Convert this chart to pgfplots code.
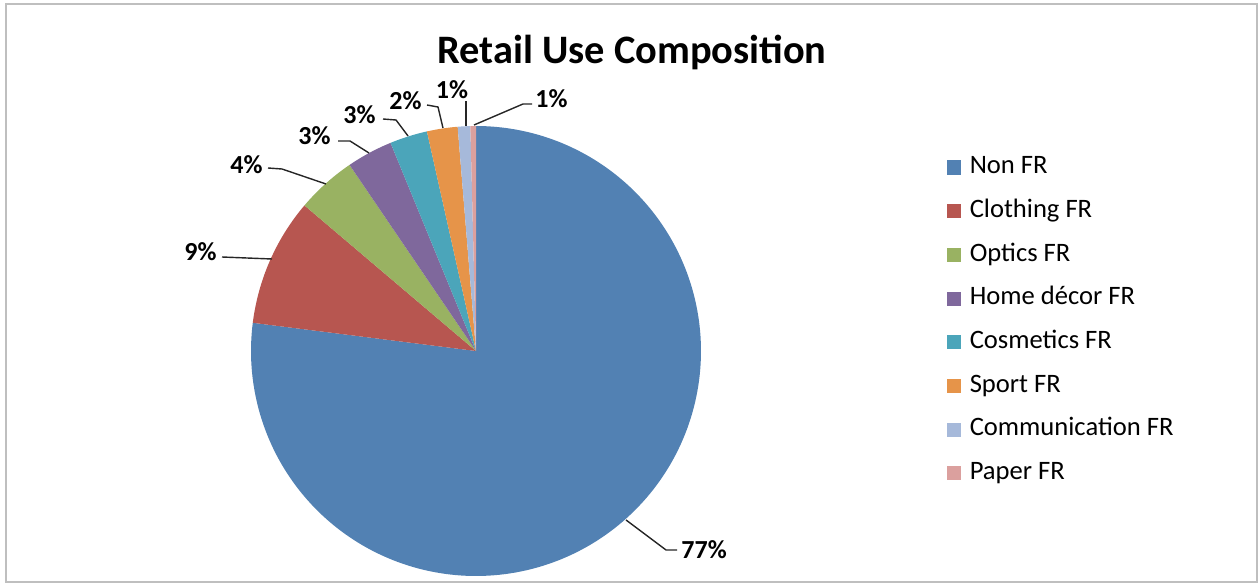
\documentclass[border=0pt]{standalone}
\usepackage{pgfplots}
\pgfplotsset{compat=1.18}
\usepackage{fontspec}
\setmainfont{Carlito}
\definecolor{cNon}{RGB}{82,129,179}
\definecolor{cClo}{RGB}{183,86,80}
\definecolor{cOpt}{RGB}{153,178,98}
\definecolor{cHom}{RGB}{127,104,156}
\definecolor{cCos}{RGB}{75,165,186}
\definecolor{cSpo}{RGB}{230,148,73}
\definecolor{cCom}{RGB}{166,185,218}
\definecolor{cPap}{RGB}{219,160,158}
\definecolor{frame}{RGB}{191,191,191}
% shares in percent
\def\vA{77.0}\def\vB{9.2}\def\vC{4.3}\def\vD{3.3}
\def\vE{2.7}\def\vF{2.2}\def\vG{0.9}\def\vH{0.4}
\begin{document}
\begin{tikzpicture}[x=0.5pt,y=-0.5pt]
\useasboundingbox (0,0) rectangle (1259,583);
\draw[frame, line width=1pt] (6,4) rectangle (1257,582);
\node[font=\bfseries\fontsize{20.2}{24}\selectfont] at (632,52) {Retail Use Composition};
\pgfmathsetmacro\aA{90}
\pgfmathsetmacro\aB{\aA-3.6*\vA}
\pgfmathsetmacro\aC{\aB-3.6*\vB}
\pgfmathsetmacro\aD{\aC-3.6*\vC}
\pgfmathsetmacro\aE{\aD-3.6*\vD}
\pgfmathsetmacro\aF{\aE-3.6*\vE}
\pgfmathsetmacro\aG{\aF-3.6*\vF}
\pgfmathsetmacro\aH{\aG-3.6*\vG}
\pgfmathsetmacro\aI{\aH-3.6*\vH}
\begin{axis}[at={(238pt,-175.5pt)}, anchor=center, scale only axis,
  width=225pt, height=225pt, xmin=-1, xmax=1, ymin=-1, ymax=1,
  hide axis, clip=false,
  legend image code/.code={\fill[#1] (0pt,-3.4pt) rectangle (7pt,3.6pt);},
  legend cell align=left,
  legend style={at={(1.547,0.934)}, anchor=north west, draw=none, fill=none,
    inner sep=0pt, outer sep=0pt, row sep=9.85pt, column sep=4.3pt,
    font=\fontsize{13.3}{16}\selectfont,
    nodes={inner sep=0pt, text height=9pt, text depth=3pt}},
]
\addplot[fill=cNon, draw=none, domain=\aB:\aA, samples=200] ({cos(x)},{sin(x)}) -- (axis cs:0,0) -- cycle;
\addlegendentry{Non FR}
\addplot[fill=cClo, draw=none, domain=\aC:\aB, samples=40] ({cos(x)},{sin(x)}) -- (axis cs:0,0) -- cycle;
\addlegendentry{Clothing FR}
\addplot[fill=cOpt, draw=none, domain=\aD:\aC, samples=20] ({cos(x)},{sin(x)}) -- (axis cs:0,0) -- cycle;
\addlegendentry{Optics FR}
\addplot[fill=cHom, draw=none, domain=\aE:\aD, samples=20] ({cos(x)},{sin(x)}) -- (axis cs:0,0) -- cycle;
\addlegendentry{Home décor FR}
\addplot[fill=cCos, draw=none, domain=\aF:\aE, samples=20] ({cos(x)},{sin(x)}) -- (axis cs:0,0) -- cycle;
\addlegendentry{Cosmetics FR}
\addplot[fill=cSpo, draw=none, domain=\aG:\aF, samples=15] ({cos(x)},{sin(x)}) -- (axis cs:0,0) -- cycle;
\addlegendentry{Sport FR}
\addplot[fill=cCom, draw=none, domain=\aH:\aG, samples=8] ({cos(x)},{sin(x)}) -- (axis cs:0,0) -- cycle;
\addlegendentry{Communication FR}
\addplot[fill=cPap, draw=none, domain=\aI:\aH, samples=5] ({cos(x)},{sin(x)}) -- (axis cs:0,0) -- cycle;
\addlegendentry{Paper FR}
\end{axis}
\begin{scope}[line width=0.7pt, draw=black!85]
\draw (626,520) -- (666,550) -- (677,550);
\draw (272,259) -- (222,257);
\draw (326,184) -- (282,169) -- (268,168);
\draw (369,153) -- (350,141) -- (338,141);
\draw (408,136) -- (396,120) -- (383,119);
\draw (443,128) -- (438,107) -- (427,105);
\draw (466,126) -- (466,101);
\draw (474,125) -- (523,104) -- (532,104);
\end{scope}
\begin{scope}[every node/.style={font=\bfseries\fontsize{13}{15}\selectfont, inner sep=0pt}]
\node[anchor=west] at (681,550) {77\%};
\node[anchor=east] at (217,252) {9\%};
\node[anchor=east] at (263,165) {4\%};
\node[anchor=east] at (331,136) {3\%};
\node[anchor=east] at (376,115) {3\%};
\node[anchor=east] at (422,101) {2\%};
\node at (452,90) {1\%};
\node[anchor=west] at (535,99) {1\%};
\end{scope}
\end{tikzpicture}
\end{document}
